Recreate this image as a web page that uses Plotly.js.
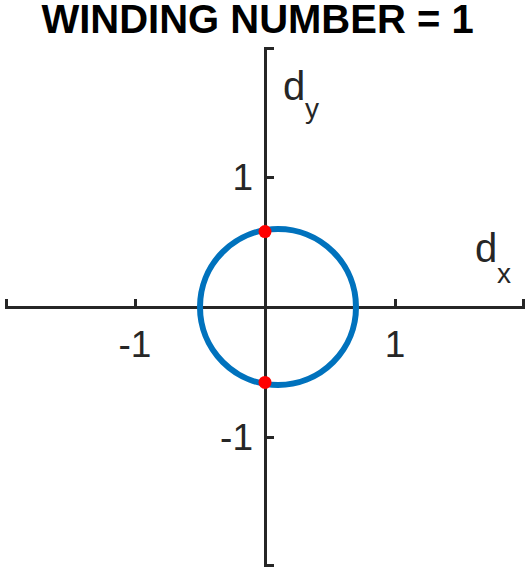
<!DOCTYPE html>
<html>
<head>
<meta charset="utf-8">
<script src="https://cdn.plot.ly/plotly-3.0.1.min.js"></script>
<style>html,body{margin:0;padding:0;background:#fff;}</style>
</head>
<body>
<div id="chart" style="width:530px;height:572px;"></div>
<script>
// Data
const titleText = 'WINDING NUMBER = 1';
const tickVals = [-1.99, -1, 1, 1.99];
const tickText = ['', '-1', '1', ''];
const axisRange = [-2, 2];
// circle (trajectory of d(k)): extents in x and y
const circleX = [-0.5, 0.7];
const circleY = [-0.6, 0.6];
// red points where the curve crosses d_x = 0
const pointsX = [0, 0];
const pointsY = [0.58, -0.58];

const ink = '#262626';
const fontFam = 'Liberation Sans, Arial, Helvetica, sans-serif';

const axisCommon = {
  range: axisRange,
  showgrid: false,
  showline: false,
  zeroline: true,
  zerolinecolor: ink,
  zerolinewidth: 3,
  ticks: 'inside',
  ticklen: 8,
  tickwidth: 3,
  tickcolor: ink,
  tickmode: 'array',
  tickvals: tickVals,
  ticktext: tickText,
  tickfont: {family: fontFam, size: 37, color: ink},
  anchor: 'free',
  position: 0.5,
  fixedrange: true
};

const data = [{
  x: pointsX,
  y: pointsY,
  type: 'scatter',
  mode: 'markers',
  marker: {color: '#FF0000', size: 13},
  cliponaxis: false,
  hoverinfo: 'skip',
  showlegend: false
}];

function px(p) { return (p - 5) / 520; }
function py(p) { return 1 - (p - 47) / 520; }

const layout = {
  width: 530,
  height: 572,
  margin: {l: 5, r: 5, t: 47, b: 5, pad: 0},
  paper_bgcolor: '#ffffff',
  plot_bgcolor: '#ffffff',
  showlegend: false,
  title: {
    text: '<b>' + titleText + '</b>',
    font: {family: fontFam, size: 40, color: '#000000'},
    xref: 'container', yref: 'container',
    x: 257.5 / 530, xanchor: 'center',
    y: 1 - 19 / 572, yanchor: 'middle'
  },
  xaxis: Object.assign({}, axisCommon, {ticklabelstandoff: 12}),
  yaxis: Object.assign({}, axisCommon, {ticklabelstandoff: 12}),
  shapes: [{
    type: 'circle',
    xref: 'x', yref: 'y',
    x0: circleX[0], x1: circleX[1],
    y0: circleY[0], y1: circleY[1],
    line: {color: '#0072BD', width: 6},
    fillcolor: 'rgba(0,0,0,0)',
    layer: 'between'
  }],
  annotations: [
    {text: 'd', xref: 'paper', yref: 'paper', x: px(473), y: py(248), xanchor: 'left', yanchor: 'middle', showarrow: false, font: {family: fontFam, size: 40, color: ink}},
    {text: 'x', xref: 'paper', yref: 'paper', x: px(495), y: py(273), xanchor: 'left', yanchor: 'middle', showarrow: false, font: {family: fontFam, size: 28, color: ink}},
    {text: 'd', xref: 'paper', yref: 'paper', x: px(281), y: py(86), xanchor: 'left', yanchor: 'middle', showarrow: false, font: {family: fontFam, size: 40, color: ink}},
    {text: 'y', xref: 'paper', yref: 'paper', x: px(303), y: py(108.5), xanchor: 'left', yanchor: 'middle', showarrow: false, font: {family: fontFam, size: 28, color: ink}}
  ]
};

Plotly.newPlot('chart', data, layout, {staticPlot: true, displayModeBar: false});
</script>
</body>
</html>
